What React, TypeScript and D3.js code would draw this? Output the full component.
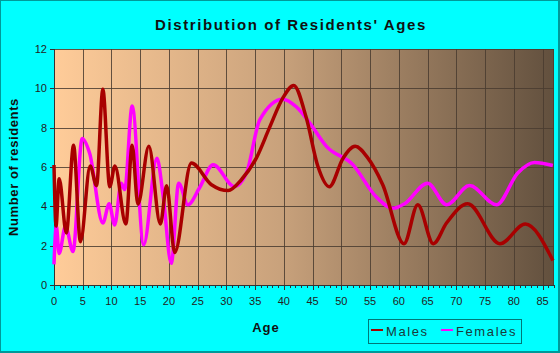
import { useEffect, useRef } from "react";
import * as d3 from "d3";

// control points: [age, residents]
const males: [number, number][] = [
  [0, 6.1], [0.35, 3.0], [0.9, 5.4], [2.15, 2.65], [3.4, 7.1], [4.6, 2.2],
  [6.3, 6.05], [7.4, 5.05], [8.5, 9.95], [9.7, 5.0], [10.6, 6.05],
  [12.5, 3.1], [13.6, 7.1], [14.6, 4.1], [16.5, 7.05], [18.5, 3.1],
  [19.6, 5.05], [21.0, 1.65], [23.9, 6.2], [27.4, 5.1], [30.3, 4.8],
  [32.6, 5.35], [35.2, 6.45], [37.5, 8.0], [39.8, 9.5], [41.7, 10.15],
  [43.9, 8.5], [45.9, 6.05], [47.9, 5.0], [50.3, 6.45], [52.4, 7.05],
  [54.5, 6.5], [57.2, 5.1], [60.9, 2.1], [63.3, 4.08], [66.0, 2.1],
  [68.3, 3.15], [72.0, 4.13], [77.6, 2.1], [82.0, 3.1], [86.8, 1.25],
];

const females: [number, number][] = [
  [0, 1.05], [0.4, 3.0], [0.9, 1.6], [2.0, 3.0], [3.3, 1.7], [4.9, 7.45],
  [6.2, 6.7], [8.5, 3.15], [9.6, 4.13], [10.55, 3.05], [11.7, 5.18],
  [12.3, 4.85], [13.6, 9.1], [15.6, 2.05], [17.9, 6.45], [19.0, 4.5],
  [20.4, 1.1], [21.7, 5.18], [23.3, 4.08], [25.3, 4.93], [27.7, 6.12],
  [31.4, 5.0], [33.5, 5.7], [35.8, 8.4], [39.8, 9.45], [42.2, 9.05],
  [44.5, 8.24], [47.4, 7.05], [52.0, 6.12], [56.0, 4.5], [59.0, 3.9],
  [61.0, 4.13], [65.0, 5.18], [68.3, 4.08], [72.3, 5.06], [77.0, 4.08],
  [80.7, 5.7], [83.6, 6.23], [86.8, 6.08],
];

const xTicks = d3.range(0, 86, 5);
const yTicks = [0, 2, 4, 6, 8, 10, 12];

const font = "'Liberation Sans', Arial, sans-serif";

export default function App() {
  const ref = useRef<SVGSVGElement | null>(null);

  useEffect(() => {
    if (!ref.current) return;
    const width = 560;
    const height = 353;
    const margin = { top: 49, right: 6, bottom: 68, left: 54 };

    const svg = d3.select(ref.current);
    svg.selectAll("*").remove();

    // background + border
    svg.append("rect").attr("width", width).attr("height", height).attr("fill", "#009999");
    svg.append("rect").attr("x", 1).attr("y", 1)
      .attr("width", width - 3).attr("height", height - 3).attr("fill", "#00ffff");

    const x = d3.scaleLinear().domain([0, 87]).range([margin.left, width - margin.right]);
    const y = d3.scaleLinear().domain([0, 12]).range([height - margin.bottom, margin.top]);

    const defs = svg.append("defs");
    const grad = defs.append("linearGradient").attr("id", "bg").attr("x1", "0").attr("x2", "1").attr("y1", "0").attr("y2", "0");
    grad.append("stop").attr("offset", "0%").attr("stop-color", "#ffcc99");
    grad.append("stop").attr("offset", "45%").attr("stop-color", "#c9a27c");
    grad.append("stop").attr("offset", "100%").attr("stop-color", "#62503e");

    svg.append("rect")
      .attr("x", x(0)).attr("y", y(12))
      .attr("width", x(87) - x(0)).attr("height", y(0) - y(12))
      .attr("fill", "url(#bg)");

    // grid
    const grid = svg.append("g").attr("stroke", "#4a3c30").attr("stroke-opacity", 0.85).attr("stroke-width", 1);
    xTicks.forEach(t => {
      grid.append("line").attr("x1", Math.round(x(t)) + 0.5).attr("x2", Math.round(x(t)) + 0.5)
        .attr("y1", y(12)).attr("y2", y(0));
    });
    yTicks.forEach(t => {
      grid.append("line").attr("x1", x(0)).attr("x2", x(87))
        .attr("y1", Math.round(y(t)) + 0.5).attr("y2", Math.round(y(t)) + 0.5);
    });
    grid.append("line").attr("x1", Math.round(x(87)) - 0.5).attr("x2", Math.round(x(87)) - 0.5)
      .attr("y1", y(12)).attr("y2", y(0));

    // axes
    const ax = svg.append("g").attr("stroke", "#333").attr("stroke-width", 1);
    ax.append("line").attr("x1", x(0)).attr("x2", x(87))
      .attr("y1", Math.round(y(0)) + 0.5).attr("y2", Math.round(y(0)) + 0.5);
    ax.append("line").attr("x1", Math.round(x(0)) + 0.5).attr("x2", Math.round(x(0)) + 0.5)
      .attr("y1", y(12)).attr("y2", y(0));
    d3.range(0, 88).forEach(t => {
      ax.append("line").attr("x1", Math.round(x(t)) + 0.5).attr("x2", Math.round(x(t)) + 0.5)
        .attr("y1", y(0)).attr("y2", y(0) + (t % 5 === 0 ? 5 : 3));
    });
    yTicks.forEach(t => {
      ax.append("line").attr("x1", x(0) - 4).attr("x2", x(0))
        .attr("y1", Math.round(y(t)) + 0.5).attr("y2", Math.round(y(t)) + 0.5);
    });

    svg.append("g").selectAll("text").data(xTicks).join("text")
      .attr("x", d => x(d)).attr("y", y(0) + 20)
      .attr("text-anchor", "middle").attr("font-family", font).attr("font-size", 11)
      .attr("fill", "#222").text(d => d);

    svg.append("g").selectAll("text").data(yTicks).join("text")
      .attr("x", x(0) - 7).attr("y", d => y(d) + 4)
      .attr("text-anchor", "end").attr("font-family", font).attr("font-size", 11)
      .attr("fill", "#222").text(d => d);

    // lines
    const line = d3.line<[number, number]>().x(d => x(d[0])).y(d => y(d[1])).curve(d3.curveMonotoneX);
    svg.append("path").datum(females).attr("d", line).attr("fill", "none")
      .attr("stroke", "#ff00ff").attr("stroke-width", 3.5).attr("stroke-linejoin", "round");
    svg.append("path").datum(males).attr("d", line).attr("fill", "none")
      .attr("stroke", "#a80000").attr("stroke-width", 3.5).attr("stroke-linejoin", "round");

    // titles
    svg.append("text").attr("x", 291).attr("y", 30).attr("text-anchor", "middle")
      .attr("font-family", font).attr("font-weight", "bold").attr("font-size", 15)
      .attr("letter-spacing", 1.6).attr("fill", "#111").text("Distribution of Residents' Ages");

    svg.append("text").attr("x", 266).attr("y", 332).attr("text-anchor", "middle")
      .attr("font-family", font).attr("font-weight", "bold").attr("font-size", 13)
      .attr("letter-spacing", 1).attr("fill", "#111").text("Age");

    svg.append("text").attr("transform", `translate(18, ${y(6)}) rotate(-90)`)
      .attr("text-anchor", "middle")
      .attr("font-family", font).attr("font-weight", "bold").attr("font-size", 13)
      .attr("letter-spacing", 0.6).attr("fill", "#111").text("Number of residents");

    // legend
    const lg = svg.append("g");
    lg.append("rect").attr("x", 368.5).attr("y", 319.5).attr("width", 153).attr("height", 24)
      .attr("fill", "none").attr("stroke", "#007777").attr("stroke-width", 1);
    const items = [
      { label: "Males", color: "#a80000", x: 371 },
      { label: "Females", color: "#ff00ff", x: 441 },
    ];
    items.forEach(it => {
      lg.append("line").attr("x1", it.x).attr("x2", it.x + 12).attr("y1", 330).attr("y2", 330)
        .attr("stroke", it.color).attr("stroke-width", 2);
      lg.append("text").attr("x", it.x + 15).attr("y", 336)
        .attr("font-family", font).attr("font-size", 13).attr("letter-spacing", 1.6)
        .attr("fill", "#1a3a3a").text(it.label);
    });
  }, []);

  return (
    <svg ref={ref} width={560} height={353}
      style={{ position: "absolute", left: 0, top: 0, display: "block" }} />
  );
}
